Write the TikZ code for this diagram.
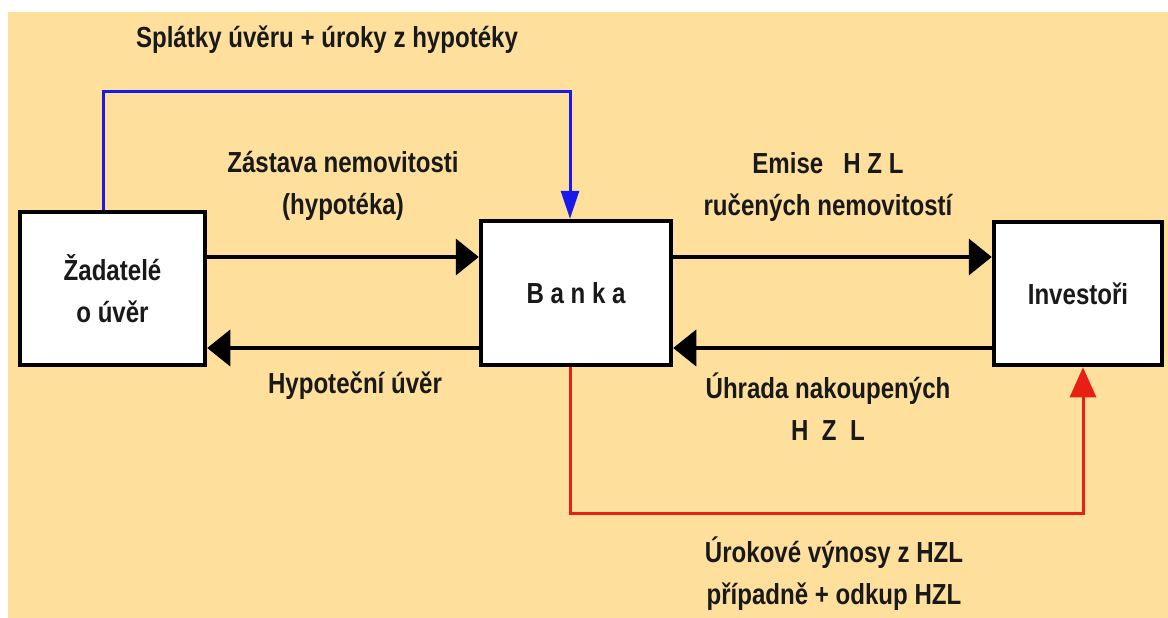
\documentclass[tikz,border=0pt]{standalone}
\usepackage{fontspec}
\setmainfont{Liberation Sans}[FakeStretch=0.83]
\usetikzlibrary{arrows.meta}
\definecolor{paper}{RGB}{254,224,156}
\definecolor{inkblue}{RGB}{25,25,235}
\definecolor{inkred}{RGB}{232,32,20}

\begin{document}
\begin{tikzpicture}[x=1pt,y=-1pt,
  every node/.style={font=\bfseries\fontsize{29}{42}\selectfont,text=black!90,align=center},
  party/.style={draw,fill=white,line width=4.5pt,inner sep=0pt},
  flow/.style={line width=4pt,-{Triangle[length=23pt,width=36pt]}},
  blueflow/.style={draw=inkblue,line width=3pt,-{Triangle[length=28pt,width=18pt]}},
  redflow/.style={draw=inkred,line width=3pt,-{Triangle[length=30pt,width=26pt]}}]
  \useasboundingbox (0,0) rectangle (1168,618);
  \fill[paper] (8,12) rectangle (1168,618);
  % the three parties
  \node[party,minimum width=185pt,minimum height=153pt] (zad) at (112.5,288.5) {Žadatelé\\o úvěr};
  \node[party,minimum width=190pt,minimum height=144pt] (banka) at (576,293) {B a n k a};
  \node[party,minimum width=168pt,minimum height=143pt] (inv) at (1078,293.5) {Investoři};
  % black flows
  \draw[flow] (zad.east |- 0,257) -- (banka.west |- 0,257);
  \draw[flow] (banka.west |- 0,348) -- (zad.east |- 0,348);
  \draw[flow] (banka.east |- 0,257) -- (inv.west |- 0,257);
  \draw[flow] (inv.west |- 0,348) -- (banka.east |- 0,348);
  % repayments and yields
  \coordinate (bluetop) at (103,92);
  \coordinate (redlow) at (1083,513);
  \draw[blueflow] (zad.north -| bluetop) -- (bluetop) -| (banka.north -| 570,0);
  \draw[redflow] (banka.south -| 570,0) |- (redlow) -- (inv.south -| redlow);
  % labels
  \node (splatky) at (327,40) {Splátky úvěru + úroky z hypotéky};
  \node (zastava) at (343,186) {Zástava nemovitosti\\(hypotéka)};
  \node (emise) at (828,187) {Emise\ \ \ H Z L\\ručených nemovitostí};
  \node (hypouver) at (355,386) {Hypoteční úvěr};
  \node (uhrada) at (828,407) {Úhrada nakoupených\\H\ \ Z\ \ L};
  \node (vynosy) at (834,574) {Úrokové výnosy z HZL\\případně + odkup HZL};
\end{tikzpicture}
\end{document}
